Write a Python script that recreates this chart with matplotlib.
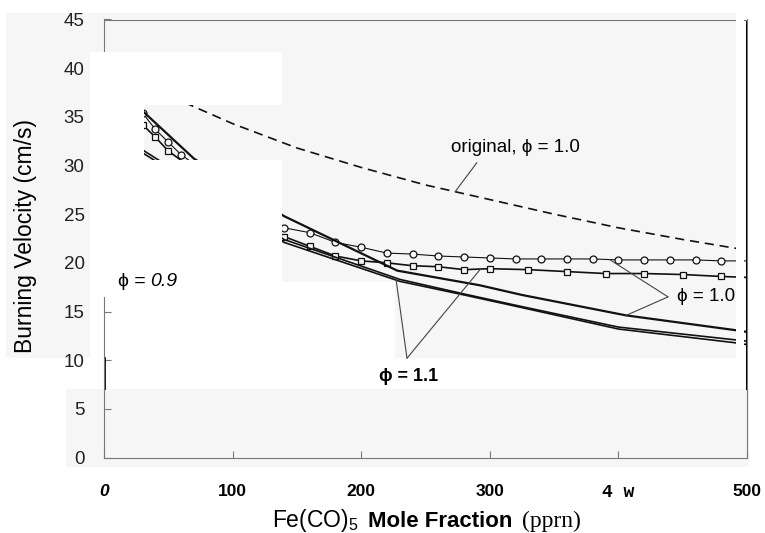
import numpy as np
import matplotlib.pyplot as plt
from matplotlib.patches import Rectangle

# values (Fe(CO)5 in ppm, burning velocity in cm/s)
orig_x = [0, 50, 100, 150, 200, 250, 300, 350, 400, 450, 500]
orig_v = [40.5, 37.2, 34.3, 31.8, 29.8, 28.0, 26.5, 25.0, 23.6, 22.4, 21.3]

circ_x = [30, 40, 50, 60, 140, 160, 180, 200, 220, 240, 260, 280, 300,
          320, 340, 360, 380, 400, 420, 440, 460, 480, 500]
circ_v = [35.4, 33.7, 32.4, 31.1, 23.6, 23.1, 22.1, 21.6, 21.0, 20.9, 20.7,
          20.6, 20.5, 20.4, 20.4, 20.4, 20.4, 20.3, 20.3, 20.3, 20.3, 20.2, 20.2]

sq_x = [30, 40, 50, 140, 160, 180, 200, 220, 240, 260, 280, 300,
        330, 360, 390, 420, 450, 480, 500]
sq_v = [34.2, 32.9, 31.5, 22.7, 21.7, 20.7, 20.2, 20.0, 19.7, 19.6, 19.3,
        19.4, 19.3, 19.1, 18.9, 18.9, 18.8, 18.6, 18.5]

a_x = [30, 70, 140, 228, 292, 325, 406, 490, 500]
a_v = [35.6, 30.7, 24.8, 19.2, 17.7, 16.7, 14.6, 13.1, 12.9]

lo_x = [30, 140, 230, 280, 325, 400, 490, 500]
b_v = [31.6, 22.4, 18.3, 16.8, 15.5, 13.4, 12.1, 11.95]
c_v = [31.3, 22.1, 18.1, 16.7, 15.4, 13.2, 11.8, 11.6]

xticks = [0, 100, 200, 300, 400, 500]
xtick_labels = ['0', '100', '200', '300', '4 w', '500']
yticks = [0, 5, 10, 15, 20, 25, 30, 35, 40, 45]

plt.rcParams['font.family'] = ['Liberation Sans', 'DejaVu Sans']
plt.rcParams['mathtext.fontset'] = 'custom'
plt.rcParams['mathtext.rm'] = 'Liberation Sans'

W, H = 765, 533
fig = plt.figure(figsize=(W / 100, H / 100), dpi=100)
ax = fig.add_axes([104 / W, 1 - 457.5 / H, (747 - 104) / W, (457.5 - 19.5) / H])
ax.set_facecolor('none')

def box(x0, y0, x1, y1, color, z):
    # rectangle given in pixel coordinates of the scan
    r = Rectangle((x0 / W, 1 - y1 / H), (x1 - x0) / W, (y1 - y0) / H,
                  transform=fig.transFigure, facecolor=color,
                  edgecolor='none', zorder=z)
    fig.add_artist(r)

# grey scanned paper
paper = '#f6f6f6'
box(6, 13, 736, 282, paper, -5)
box(6, 282, 90, 358, paper, -5)
box(395, 282, 736, 358, paper, -5)
box(66, 389, 749, 467, paper, -5)

# data
ink = '#111111'
ax.plot(orig_x, orig_v, color=ink, lw=1.2, dashes=(5.5, 3.5))
ax.plot(circ_x, circ_v, color=ink, lw=0.8, marker='o', ms=5, mfc=paper,
        mec=ink, mew=0.9, markevery=slice(0, -1))
ax.plot(sq_x, sq_v, color=ink, lw=1.2, marker='s', ms=5, mfc=paper,
        mec=ink, mew=0.9, markevery=slice(0, -1))
ax.plot(a_x, a_v, color=ink, lw=1.6)
ax.plot(lo_x, b_v, color=ink, lw=1.2)
ax.plot(lo_x, c_v, color=ink, lw=1.2)

ax.set_xlim(0, 500)
ax.set_ylim(0, 45)

for s in ax.spines.values():
    s.set_color('#777777')
    s.set_linewidth(0.8)
ax.axvline(500, ymin=7.1 / 45, ymax=1, color='k', lw=2.2)
ax.axvline(0, ymin=7.1 / 45, ymax=10.2 / 45, color='k', lw=2)

ax.set_yticks(yticks)
ax.set_xticks(xticks, labels=xtick_labels)
ax.tick_params(direction='in', length=5, width=0.8, color='#777777')
ax.tick_params(axis='y', pad=14, labelsize=13.5, labelcolor='#222222')
ax.tick_params(axis='x', pad=19, labelsize=12.5)

tl = ax.get_xticklabels()
tl[0].set_fontstyle('italic')
tl[0].set_fontweight('bold')
for t in tl[1:4] + tl[5:]:
    t.set_fontweight('bold')
tl[4].set_fontfamily(['Liberation Mono', 'DejaVu Sans Mono'])
tl[4].set_fontweight('bold')
tl[4].set_fontsize(13)

# annotations with leader lines
lead = dict(arrowstyle='-', color='#444444', lw=0.8, shrinkA=0, shrinkB=0)
ax.text(319.6, 31.8, 'original, ϕ = 1.0', fontsize=13.5, ha='center', va='center')
ax.annotate('', xy=(273, 27.3), xytext=(290, 30.3), arrowprops=lead)

ax.text(445.6, 16.5, 'ϕ = 1.0', fontsize=13.5, ha='left', va='center')
ax.annotate('', xy=(393, 20.35), xytext=(438.6, 16.5), arrowprops=lead)
ax.annotate('', xy=(406, 14.6), xytext=(438.6, 16.5), arrowprops=lead)

ax.text(237, 8.3, 'ϕ = 1.1', fontsize=13, fontweight='bold', ha='center', va='center')
ax.annotate('', xy=(227, 18.4), xytext=(235.6, 10.2), arrowprops=lead)
ax.annotate('', xy=(293, 19.4), xytext=(235.6, 10.2), arrowprops=lead)

# white blanks of the scan cover part of the plot
box(90, 52, 282, 105, 'white', 5)
box(90, 105, 144, 160, 'white', 5)
box(90, 160, 282, 297, 'white', 5)
box(736, 13, 744, 389, 'white', 5)

fig.text(118 / W, 1 - 281 / H, 'ϕ =', fontsize=14, va='center', zorder=6)
fig.text(150 / W, 1 - 281 / H, '0.9', fontsize=14, style='italic', va='center', zorder=6)

fig.text(26 / W, 1 - 236 / H, 'Burning Velocity (cm/s)', rotation=90,
         fontsize=16.5, ha='center', va='center')

base = 1 - 527 / H
fig.text(272 / W, base, 'Fe(CO)$_\\mathregular{5}$', fontsize=16.5, va='baseline')
fig.text(368 / W, base, 'Mole Fraction', fontsize=16, fontweight='bold',
         va='baseline')
fig.text(522 / W, base, '(pprn)', fontsize=17, family='Liberation Serif',
         va='baseline')

fig.savefig('out.png', dpi=100)
